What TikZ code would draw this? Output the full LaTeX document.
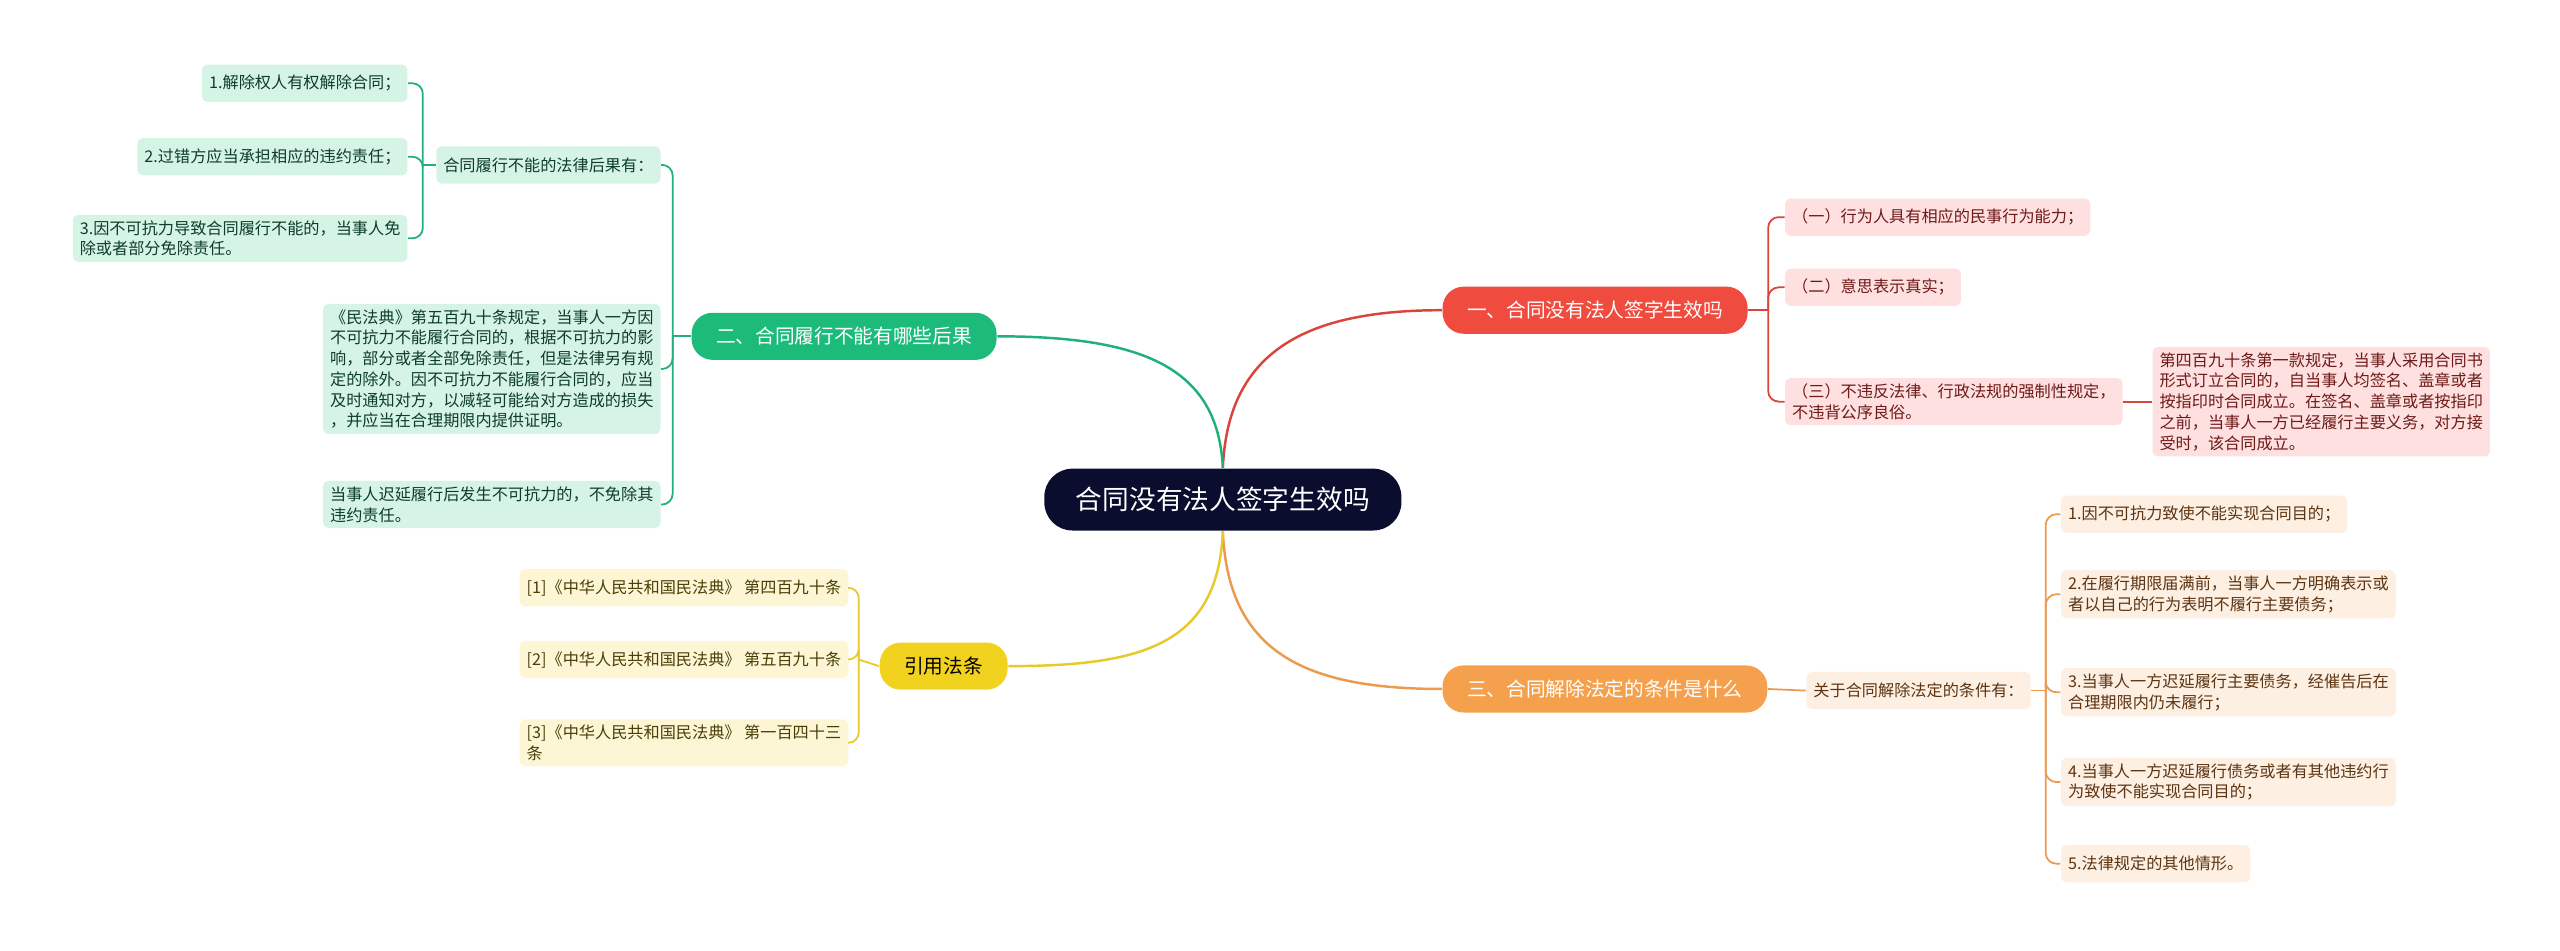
\documentclass[tikz,border=0pt]{standalone}
\usepackage{fontspec}
\setmainfont{Noto Sans CJK SC}
\usetikzlibrary{positioning}
\definecolor{rootc}{HTML}{0B0D2E}
\definecolor{redc}{HTML}{F04B3F}
\definecolor{redl}{HTML}{D9453A}
\definecolor{redf}{HTML}{FDE0DF}
\definecolor{redt}{HTML}{6E1A18}
\definecolor{grnc}{HTML}{1DBB7A}
\definecolor{grnl}{HTML}{22B07A}
\definecolor{grnf}{HTML}{D6F4E6}
\definecolor{grnt}{HTML}{0E3D29}
\definecolor{orgc}{HTML}{F5A04C}
\definecolor{orgl}{HTML}{EC9A4E}
\definecolor{orgf}{HTML}{FDEFE2}
\definecolor{orgt}{HTML}{5C3412}
\definecolor{yelc}{HTML}{F1D21F}
\definecolor{yell}{HTML}{E8C92A}
\definecolor{yelf}{HTML}{FDF6D5}
\definecolor{yelt}{HTML}{4A3E08}
\tikzset{
  rootbox/.style={rounded corners=8pt, fill=rootc, text=white, inner xsep=9pt, minimum height=17.6pt, font=\fontsize{7.6pt}{9pt}\selectfont},
  branchbox/.style={rounded corners=6pt, inner xsep=7pt, minimum height=13.4pt, text=white, font=\fontsize{5.6pt}{7pt}\selectfont},
  leafbox/.style={rounded corners=1.5pt, inner xsep=2pt, inner ysep=1.6pt, minimum height=10.6pt, align=left, font=\fontsize{4.6pt}{5.9pt}\selectfont},
  link/.style={line width=0.7pt},
  twig/.style={line width=0.5pt, rounded corners=3pt}
}
\begin{document}
\begin{tikzpicture}[x=0.016327cm, y=-0.016327cm]
  \useasboundingbox (0,0) rectangle (1568,582);
  %root
  \node[rootbox] (root) at (749,306) {合同没有法人签字生效吗};

  %branches
  \node[branchbox, fill=redc] (b_sign) at (977,190) {一、合同没有法人签字生效吗};
  \node[branchbox, fill=grnc] (b_fail) at (517,206) {二、合同履行不能有哪些后果};
  \node[branchbox, fill=orgc] (b_term) at (983,422) {三、合同解除法定的条件是什么};
  \node[branchbox, fill=yelc, text=black] (b_law) at (578,408) {引用法条};

  %red leaves
  \node[leafbox, fill=redf, text=redt, anchor=west] (s_1) at (1093,133) {（一）行为人具有相应的民事行为能力；};
  \node[leafbox, fill=redf, text=redt, anchor=west] (s_2) at (1093,176) {（二）意思表示真实；};
  \node[leafbox, fill=redf, text=redt, anchor=west] (s_3) at (1093,246) {（三）不违反法律、行政法规的强制性规定，\\不违背公序良俗。};
  \node[leafbox, fill=redf, text=redt, anchor=west] (s_3a) at (1318,246) {第四百九十条第一款规定，当事人采用合同书\\形式订立合同的，自当事人均签名、盖章或者\\按指印时合同成立。在签名、盖章或者按指印\\之前，当事人一方已经履行主要义务，对方接\\受时，该合同成立。};

  %green leaves
  \node[leafbox, fill=grnf, text=grnt, anchor=east] (f_h) at (405,101) {合同履行不能的法律后果有：};
  \node[leafbox, fill=grnf, text=grnt, anchor=east] (f_1) at (250,51) {1.解除权人有权解除合同；};
  \node[leafbox, fill=grnf, text=grnt, anchor=east] (f_2) at (250,96) {2.过错方应当承担相应的违约责任；};
  \node[leafbox, fill=grnf, text=grnt, anchor=east] (f_3) at (250,146) {3.因不可抗力导致合同履行不能的，当事人免\\除或者部分免除责任。};
  \node[leafbox, fill=grnf, text=grnt, anchor=east] (f_4) at (405,226) {《民法典》第五百九十条规定，当事人一方因\\不可抗力不能履行合同的，根据不可抗力的影\\响，部分或者全部免除责任，但是法律另有规\\定的除外。因不可抗力不能履行合同的，应当\\及时通知对方，以减轻可能给对方造成的损失\\，并应当在合理期限内提供证明。};
  \node[leafbox, fill=grnf, text=grnt, anchor=east] (f_5) at (405,309) {当事人迟延履行后发生不可抗力的，不免除其\\违约责任。};

  %orange leaves
  \node[leafbox, fill=orgf, text=orgt, anchor=west] (t_h) at (1106,423) {关于合同解除法定的条件有：};
  \node[leafbox, fill=orgf, text=orgt, anchor=west] (t_1) at (1262,315) {1.因不可抗力致使不能实现合同目的；};
  \node[leafbox, fill=orgf, text=orgt, anchor=west] (t_2) at (1262,364) {2.在履行期限届满前，当事人一方明确表示或\\者以自己的行为表明不履行主要债务；};
  \node[leafbox, fill=orgf, text=orgt, anchor=west] (t_3) at (1262,424) {3.当事人一方迟延履行主要债务，经催告后在\\合理期限内仍未履行；};
  \node[leafbox, fill=orgf, text=orgt, anchor=west] (t_4) at (1262,479) {4.当事人一方迟延履行债务或者有其他违约行\\为致使不能实现合同目的；};
  \node[leafbox, fill=orgf, text=orgt, anchor=west] (t_5) at (1262,529) {5.法律规定的其他情形。};

  %yellow leaves
  \node[leafbox, fill=yelf, text=yelt, anchor=east] (l_1) at (520,360) {[1]《中华人民共和国民法典》 第四百九十条};
  \node[leafbox, fill=yelf, text=yelt, anchor=east] (l_2) at (520,404) {[2]《中华人民共和国民法典》 第五百九十条};
  \node[leafbox, fill=yelf, text=yelt, anchor=east] (l_3) at (520,455) {[3]《中华人民共和国民法典》 第一百四十三\\条};

  %hubs
  \coordinate (h_sign) at (1083,190);
  \coordinate (h_fail) at (412,206);
  \coordinate (h_fh) at (259,101);
  \coordinate (h_term) at (1253,423);
  \coordinate (h_law) at (526,404);

  %root links
  \draw[link, redl] (root.north) .. controls (752,215) and (800,190) .. (b_sign.west);
  \draw[link, grnl] (root.north) .. controls (746,225) and (700,206) .. (b_fail.east);
  \draw[link, orgl] (root.south) .. controls (752,400) and (800,422) .. (b_term.west);
  \draw[link, yell] (root.south) .. controls (746,395) and (700,408) .. (b_law.east);

  %red links
  \draw[twig, redl] (b_sign.east) -- (h_sign);
  \foreach \n in {s_1,s_2,s_3} \draw[twig, redl] (h_sign) |- (\n.west);
  \draw[twig, redl] (s_3.east) -- (s_3a.west);

  %green links
  \draw[twig, grnl] (b_fail.west) -- (h_fail);
  \foreach \n in {f_h,f_4,f_5} \draw[twig, grnl] (h_fail) |- (\n.east);
  \draw[twig, grnl] (f_h.west) -- (h_fh);
  \foreach \n in {f_1,f_2,f_3} \draw[twig, grnl] (h_fh) |- (\n.east);

  %orange links
  \draw[twig, orgl] (b_term.east) -- (t_h.west);
  \draw[twig, orgl] (t_h.east) -- (h_term);
  \foreach \n in {t_1,t_2,t_3,t_4,t_5} \draw[twig, orgl] (h_term) |- (\n.west);

  %yellow links
  \draw[twig, yell] (b_law.west) -- (h_law);
  \foreach \n in {l_1,l_2,l_3} \draw[twig, yell] (h_law) |- (\n.east);
\end{tikzpicture}
\end{document}
